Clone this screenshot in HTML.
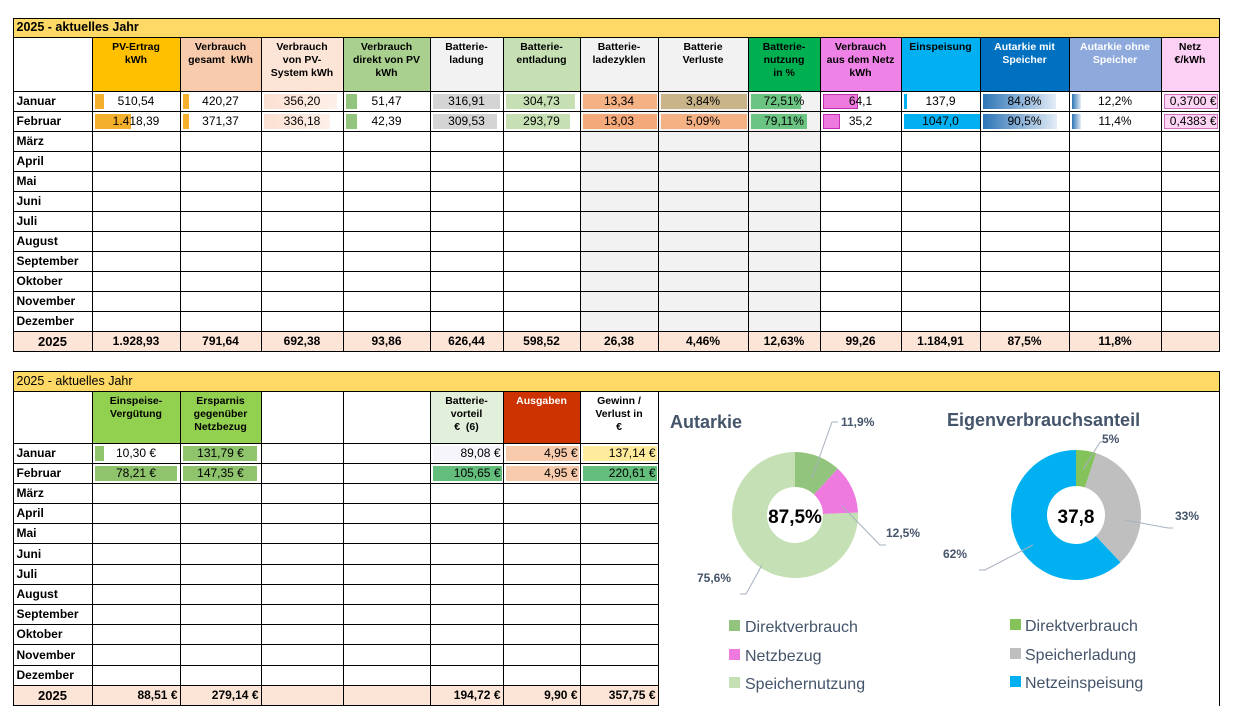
<!DOCTYPE html>
<html><head><meta charset="utf-8">
<style>
html,body{margin:0;padding:0;background:#fff;width:1237px;height:727px;overflow:hidden;}
body{position:relative;font-family:"Liberation Sans",sans-serif;color:#000;}
.c{position:absolute;box-sizing:border-box;border:1px solid #000;margin:-0.5px 0 0 -0.5px;font-size:12px;overflow:hidden;}
.h{font-weight:bold;font-size:10.5px;text-align:center;line-height:13px;padding-top:3px;}
.v{display:flex;align-items:center;justify-content:center;}
.bar{position:absolute;top:2px;bottom:2px;left:2px;}
.t{position:relative;}
</style></head><body>
<div id="root"></div>
<svg id="charts" width="1237" height="727" style="position:absolute;left:0;top:0;pointer-events:none"></svg>
<script>
// ---- Donut chart data ----
const autCats=["Direktverbrauch","Netzbezug","Speichernutzung"];
const autVals=[11.9,12.5,75.6];
const autLabels=["11,9%","12,5%","75,6%"];
const autColors=["#93c47d","#ee7ae0","#c5e0b4"];
const eigCats=["Direktverbrauch","Speicherladung","Netzeinspeisung"];
const eigVals=[5,33,62];
const eigLabels=["5%","33%","62%"];
const eigColors=["#84c25a","#bfbfbf","#00b0f0"];

const root=document.getElementById('root');
function cell(x1,x2,y1,y2,bg,txt,cls,name,extra){
  const d=document.createElement('div');
  d.className='c '+(cls||'');
  
  
  d.style.left=x1+'px';d.style.top=y1+'px';d.style.width=(x2-x1+1)+'px';d.style.height=(y2-y1+1)+'px';
  if(bg)d.style.background=bg;
  if(extra)extra(d);
  if(txt!==undefined&&txt!==null){const s=document.createElement('span');s.className='t';s.innerHTML=txt;d.appendChild(s);}
  root.appendChild(d);return d;
}
function addBar(d,w,color,border){const b=document.createElement('div');b.className='bar';b.style.width=w+'px';b.style.background=color;if(border)b.style.border=border;b.style.boxSizing='border-box';


d.appendChild(b);}

// ---- top table ----
const X=[13,92,180,261,343,430,503,580,658,748,820,901,980,1069,1161,1219];
cell(13,1219,18,37,'#ffd966','','','table-title',d=>{d.style.fontWeight='bold';d.style.fontSize='12.5px';d.style.padding='1px 3px';}).lastChild.textContent='2025 - aktuelles Jahr';
const heads=["","PV-Ertrag<br>kWh","Verbrauch<br>gesamt&nbsp; kWh","Verbrauch<br>von PV-<br>System kWh","Verbrauch<br>direkt von PV<br>kWh","Batterie-<br>ladung","Batterie-<br>entladung","Batterie-<br>ladezyklen","Batterie<br>Verluste","Batterie-<br>nutzung<br>in %","Verbrauch<br>aus dem Netz<br>kWh","Einspeisung","Autarkie mit<br>Speicher","Autarkie ohne<br>Speicher","Netz<br>€/kWh"];
const hbg=["#fff","#ffc000","#f8cbad","#fce4d6","#a9d08e","#f2f2f2","#c6e0b4","#f2f2f2","#f2f2f2","#00b050","#ee82e6","#00b0f0","#0070c0","#8ea9db","#fcd0f5"];
for(let i=0;i<15;i++){const d=cell(X[i],X[i+1],37,91,hbg[i],heads[i],'h','header-'+i);if(i==12||i==13)d.style.color='#fff';}
const months=["Januar","Februar","März","April","Mai","Juni","Juli","August","September","Oktober","November","Dezember"];
const jan=["510,54","420,27","356,20","51,47","316,91","304,73","13,34","3,84%","72,51%","64,1","137,9","84,8%","12,2%","0,3700 €"];
const feb=["1.418,39","371,37","336,18","42,39","309,53","293,79","13,03","5,09%","79,11%","35,2","1047,0","90,5%","11,4%","0,4383 €"];
const rowsY=[91,111,131,151,171,191,211,231,251,271,291,311,331];
const grad='linear-gradient(90deg,#2e75b6,#e3ecf7)';
const barSpec=[
 [[9,'#f4b02a'],[36,'#f4b02a']],
 [[6,'#f4b02a'],[6,'#f4b02a']],
 [[73,'linear-gradient(90deg,#fbe0d2,#fdf0e8)'],[66,'linear-gradient(90deg,#fbe0d2,#fdf0e8)']],
 [[11,'#93c47d'],[11,'#93c47d']],
 [[67,'#d4d4d4'],[64,'#d4d4d4']],
 [[69,'#c6e0b4'],[64,'#c6e0b4']],
 [[74,'#f4b183'],[74,'#f4a97a']],
 [[86,'#c9b48a'],[86,'#f4b183']],
 [[50,'#6cc483'],[56,'#6cc483']],
 [[35,'#ee7ae0','1px solid #c030b0'],[17,'#ee7ae0','1px solid #c030b0']],
 [[3,'#00b0f0'],[77,'#00b0f0']],
 [[73,grad],[74,grad]],
 [[9,grad],[9,grad]],
 [[54,'#fcd5f5','1px solid #d070c0'],[54,'#fcd5f5','1px solid #d070c0']]
];
for(let r=0;r<12;r++){
  cell(13,92,rowsY[r],rowsY[r+1],'#fff',months[r],'v','month-'+months[r].toLowerCase(),d=>{d.style.justifyContent='flex-start';d.style.fontWeight='bold';d.style.paddingLeft='3px';});
  for(let i=1;i<15;i++){
    let bg=(i>=7&&i<=9)?'#f2f2f2':'#fff';
    const val=r==0?jan[i-1]:r==1?feb[i-1]:null;
    const d=cell(X[i],X[i+1],rowsY[r],rowsY[r+1],bg,null,'v','cell-'+r+'-'+i);
    if(val){const b=barSpec[i-1][r];addBar(d,b[0],b[1],b[2]);const s=document.createElement('span');s.className='t';s.textContent=val;d.appendChild(s);if(i==14){d.style.justifyContent='flex-end';d.style.paddingRight='2px';}}
  }
}
const tot=["2025","1.928,93","791,64","692,38","93,86","626,44","598,52","26,38","4,46%","12,63%","99,26","1.184,91","87,5%","11,8%",""];
for(let i=0;i<15;i++){const d=cell(X[i],X[i+1],331,351,'#fce4d6',tot[i],'v','total-'+i);d.style.fontWeight='bold';if(i==0)d.style.fontSize='13px';}

// ---- bottom table ----
const X2=[13,92,180,261,343,430,503,580,658];
cell(13,1219,371,391,'#ffd966','2025 - aktuelles Jahr','','table2-title',d=>{d.style.fontSize='12.5px';d.style.padding='2px 3px';});
cell(658,1219,391,705,'#fff',null,'','chart-area',d=>{d.style.borderLeft='none';d.style.borderBottom='none';});
const h2=["","Einspeise-<br>Vergütung","Ersparnis<br>gegenüber<br>Netzbezug","","","Batterie-<br>vorteil<br>€&nbsp; (6)","Ausgaben","Gewinn /<br>Verlust in<br>€"];
const h2bg=["#fff","#92d050","#92d050","#fff","#fff","#e2efda","#cc3300","#fff"];
for(let i=0;i<8;i++){const d=cell(X2[i],X2[i+1],391,443,h2bg[i],h2[i],'h','header2-'+i);if(i==6)d.style.color='#fff';}
const r2=[443,463,483,503,523,543,564,584,604,624,644,665,685];
const j2=["10,30 €","131,79 €","","","89,08 €","4,95 €","137,14 €"];
const f2=["78,21 €","147,35 €","","","105,65 €","4,95 €","220,61 €"];
const b2=[[[9,'#8fc46d'],[82,'#8fc46d']],[[74,'#8fc46d'],[74,'#8fc46d']],[[0,''],[0,'']],[[0,''],[0,'']],[[69,'#f5f5fb'],[69,'#63be7b']],[[73,'#f8cbad'],[73,'#f8cbad']],[[74,'#ffeb9c'],[74,'#63be7b']]];
for(let r=0;r<12;r++){
  cell(13,92,r2[r],r2[r+1],'#fff',months[r],'v','month2-'+months[r].toLowerCase(),d=>{d.style.justifyContent='flex-start';d.style.fontWeight='bold';d.style.paddingLeft='3px';});
  for(let i=1;i<8;i++){
    const val=r==0?j2[i-1]:r==1?f2[i-1]:null;
    const d=cell(X2[i],X2[i+1],r2[r],r2[r+1],'#fff',null,'v','cell2-'+r+'-'+i);
    if(val){const b=b2[i-1][r];if(b[0])addBar(d,b[0],b[1]);const s=document.createElement('span');s.className='t';s.textContent=val;d.appendChild(s);if(i>=5){d.style.justifyContent='flex-end';d.style.paddingRight='2px';}}
  }
}
const t2=["2025","88,51 €","279,14 €","","","194,72 €","9,90 €","357,75 €"];
for(let i=0;i<8;i++){const d=cell(X2[i],X2[i+1],685,705,'#fce4d6',t2[i],'v','total2-'+i);d.style.fontWeight='bold';if(i==0)d.style.fontSize='13px';else{d.style.justifyContent='flex-end';d.style.paddingRight='2px';}}

// ---- donuts ----
const svg=document.getElementById('charts');
const NS='http://www.w3.org/2000/svg';
function donut(cx,cy,R,r,vals,colors,name){
  const total=vals.reduce((a,b)=>a+b,0);let a0=0;
  vals.forEach((v,k)=>{
    const a1=a0+v/total*2*Math.PI;
    const p=(a,rad)=>[cx+rad*Math.sin(a),cy-rad*Math.cos(a)];
    const [x0,y0]=p(a0,R),[x1,y1]=p(a1,R),[x2,y2]=p(a1,r),[x3,y3]=p(a0,r);
    const lg=(a1-a0)>Math.PI?1:0;
    const path=document.createElementNS(NS,'path');
    path.setAttribute('d',`M${x0},${y0}A${R},${R} 0 ${lg} 1 ${x1},${y1}L${x2},${y2}A${r},${r} 0 ${lg} 0 ${x3},${y3}Z`);
    path.setAttribute('fill',colors[k]);
    
    
    svg.appendChild(path);a0=a1;
  });
}
donut(795,515,63,28,autVals,autColors,'autarkie');
donut(1076,515,65,29,eigVals,eigColors,'eigenverbrauch');
function line(pts){const l=document.createElementNS(NS,'polyline');l.setAttribute('points',pts);l.setAttribute('fill','none');l.setAttribute('stroke','#a6b0bf');l.setAttribute('stroke-width','1');


svg.appendChild(l);}
line('812,478 832,422 838,422');line('842,506 880,545 886,545');line('762,565 746,594 740,594');
line('1083,470 1100,442 1106,442');line('1125,520 1168,528 1173,528');line('1033,545 985,570 979,570');
function txt(x,y,s,size,col,w,name){const t=document.createElementNS(NS,'text');t.setAttribute('x',x);t.setAttribute('y',y);t.setAttribute('font-size',size);t.setAttribute('fill',col);t.setAttribute('font-weight',w);t.setAttribute('font-family','Liberation Sans, sans-serif');t.textContent=s;


svg.appendChild(t);return t;}
txt(670,428,'Autarkie',18,'#44546a','bold','chart1-title');
txt(947,426,'Eigenverbrauchsanteil',18,'#44546a','bold','chart2-title');
const c1=txt(795,523,'87,5%',19,'#000','bold','chart1-center');c1.setAttribute('text-anchor','middle');
const c2=txt(1076,523,'37,8',19,'#000','bold','chart2-center');c2.setAttribute('text-anchor','middle');
const a1pos=[[841,426],[886,537],[697,582]];
autLabels.forEach((s,k)=>txt(a1pos[k][0],a1pos[k][1],s,12,'#44546a','bold','chart1-label-'+k));
const a2pos=[[1102,443],[1175,520],[943,558]];
eigLabels.forEach((s,k)=>txt(a2pos[k][0],a2pos[k][1],s,12,'#44546a','bold','chart2-label-'+k));
const legY=[626,655,683];
autCats.forEach((s,k)=>{const r=document.createElementNS(NS,'rect');r.setAttribute('x',729);r.setAttribute('y',legY[k]-6);r.setAttribute('width',11);r.setAttribute('height',11);r.setAttribute('fill',autColors[k]);


svg.appendChild(r);txt(745,legY[k]+6,s,16,'#44546a','normal','legend1-entry-'+k);});
eigCats.forEach((s,k)=>{const r=document.createElementNS(NS,'rect');r.setAttribute('x',1010);r.setAttribute('y',legY[k]-7);r.setAttribute('width',11);r.setAttribute('height',11);r.setAttribute('fill',eigColors[k]);


svg.appendChild(r);txt(1025,legY[k]+5,s,16,'#44546a','normal','legend2-entry-'+k);});
</script>
</body></html>
